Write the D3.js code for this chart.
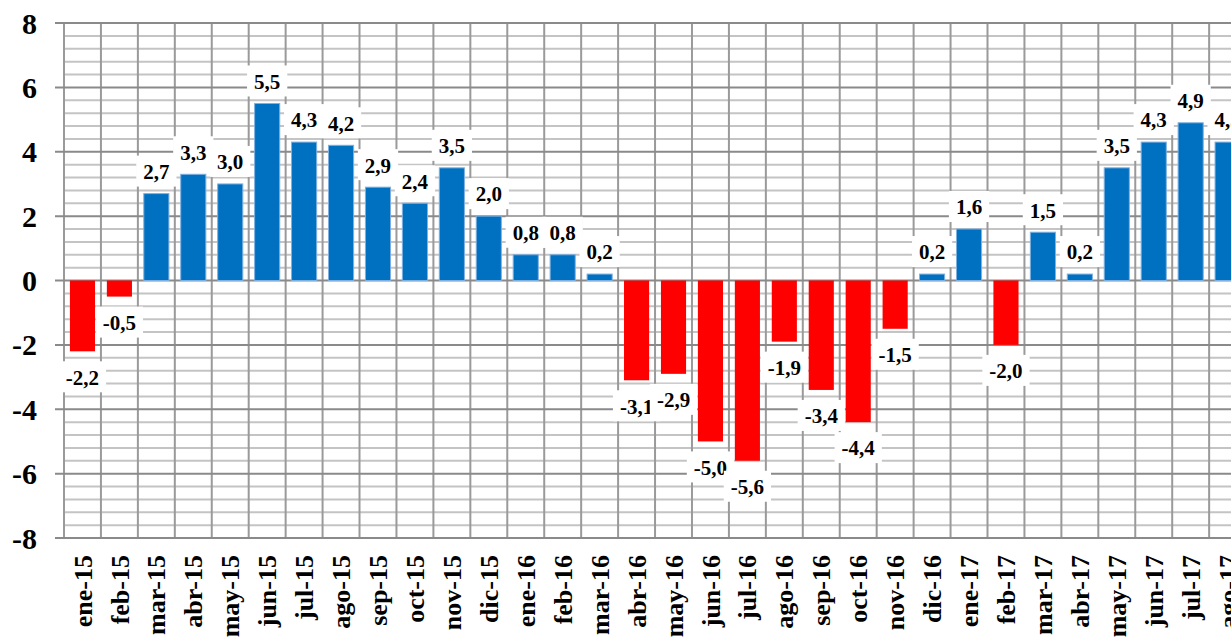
<!DOCTYPE html>
<html>
<head>
<meta charset="utf-8" />
<title></title>
<style>
  body { margin: 0; background: #fff; }
  text { font-family: "Liberation Serif", "Times New Roman", serif; font-weight: bold; fill: #000; }
</style>
</head>
<body>
<script src="https://cdn.jsdelivr.net/npm/d3@7"></script>
<script>
var months = ["ene-15","feb-15","mar-15","abr-15","may-15","jun-15","jul-15","ago-15","sep-15","oct-15","nov-15","dic-15",
              "ene-16","feb-16","mar-16","abr-16","may-16","jun-16","jul-16","ago-16","sep-16","oct-16","nov-16","dic-16",
              "ene-17","feb-17","mar-17","abr-17","may-17","jun-17","jul-17","ago-17"];
var values = [-2.2,-0.5,2.7,3.3,3.0,5.5,4.3,4.2,2.9,2.4,3.5,2.0,
              0.8,0.8,0.2,-3.1,-2.9,-5.0,-5.6,-1.9,-3.4,-4.4,-1.5,0.2,
              1.6,-2.0,1.5,0.2,3.5,4.3,4.9,4.3];
var yTicks = [-8,-6,-4,-2,0,2,4,6,8];

var width = 1231, height = 638;
var plotLeft = 64, plotTop = 23, plotBottom = 538, step = 36.94;
var plotRight = plotLeft + step * months.length;

var svg = d3.select("body").append("svg")
    .attr("width", width)
    .attr("height", height);

var x = d3.scaleBand()
    .domain(months)
    .range([plotLeft, plotRight])
    .padding(0);

var y = d3.scaleLinear()
    .domain([-8, 8])
    .range([plotBottom, plotTop]);

// minor grid every 0.4
var minor = d3.range(-80, 81, 4).map(function(d){ return d / 10; })
    .filter(function(d){ return Math.abs(d % 2) > 0.01; });
svg.append("g").selectAll("line")
    .data(minor)
    .enter().append("line")
    .attr("x1", plotLeft).attr("x2", plotRight)
    .attr("y1", function(d){ return y(d); })
    .attr("y2", function(d){ return y(d); })
    .style("stroke", "#c4c4c4")
    .style("stroke-width", 2);

// vertical lines at category boundaries
var bounds = months.map(function(m){ return x(m); }).concat([plotRight]);
svg.append("g").selectAll("line")
    .data(bounds)
    .enter().append("line")
    .attr("x1", function(d){ return d; })
    .attr("x2", function(d){ return d; })
    .attr("y1", plotTop).attr("y2", plotBottom)
    .style("stroke", "#9a9a9a")
    .style("stroke-width", 2);

// major grid + ticks
svg.append("g").selectAll("line")
    .data(yTicks)
    .enter().append("line")
    .attr("x1", plotLeft - 9).attr("x2", plotRight)
    .attr("y1", function(d){ return y(d); })
    .attr("y2", function(d){ return y(d); })
    .style("stroke", "#8a8a8a")
    .style("stroke-width", 2);

svg.append("g").selectAll("text")
    .data(yTicks)
    .enter().append("text")
    .attr("x", 37)
    .attr("y", function(d){ return y(d); })
    .attr("dy", "0.35em")
    .attr("text-anchor", "end")
    .style("font-size", "30px")
    .text(function(d){ return d; });

// bars
var bw = x.bandwidth() * 0.68;
svg.append("g").selectAll("rect")
    .data(values)
    .enter().append("rect")
    .attr("x", function(d, i){ return x(months[i]) + (x.bandwidth() - bw) / 2; })
    .attr("width", bw)
    .attr("y", function(d){ return y(Math.max(0, d)); })
    .attr("height", function(d){ return Math.abs(y(d) - y(0)); })
    .style("fill", function(d){ return d < 0 ? "#ff0000" : "#0070c0"; })
    .style("stroke", function(d){ return d < 0 ? "none" : "#7fb0e0"; })
    .style("stroke-width", 1);

// data labels with white boxes
var fmt = function(v){ return v.toFixed(1).replace(".", ","); };
var lab = svg.append("g").selectAll("g")
    .data(values)
    .enter().append("g")
    .attr("transform", function(d, i){
        var cx = x(months[i]) + x.bandwidth() / 2;
        var cy = d < 0 ? y(d) + 26 : y(d) - 22;
        return "translate(" + cx + "," + cy + ")";
    });
lab.append("rect").style("fill", "#fff");
lab.append("text")
    .attr("text-anchor", "middle")
    .attr("dy", "0.35em")
    .style("font-size", "21px")
    .text(fmt);
lab.each(function(){
    var g = d3.select(this);
    var w = g.select("text").node().getComputedTextLength() + 14;
    g.select("rect").attr("x", -w / 2).attr("y", -16).attr("width", w).attr("height", 31);
});

// x labels
svg.append("g").selectAll("text")
    .data(months)
    .enter().append("text")
    .attr("transform", function(d){
        return "translate(" + (x(d) + x.bandwidth() / 2) + ",555) rotate(-90)";
    })
    .attr("dy", "0.35em")
    .attr("text-anchor", "end")
    .style("font-size", "26px")
    .text(function(d){ return d; });
</script>
</body>
</html>
